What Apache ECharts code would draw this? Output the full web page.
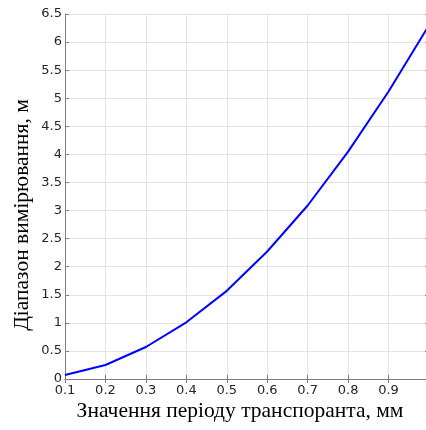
<!DOCTYPE html>
<html>
<head>
<meta charset="utf-8">
<script src="https://cdn.jsdelivr.net/npm/echarts@6/dist/echarts.min.js"></script>
<style>
  html, body { margin: 0; padding: 0; background: #fff; }
  #chart { width: 426px; height: 430px; }
</style>
</head>
<body>
<div id="chart"></div>
<script>
// період транспоранта, мм
const periods = [0.1, 0.2, 0.3, 0.4, 0.5, 0.6, 0.7, 0.8, 0.9, 1.0];
// діапазон вимірювання, м
const ranges = [0.07, 0.25, 0.57, 1.01, 1.57, 2.27, 3.09, 4.05, 5.12, 6.3];

const xTitle = 'Значення періоду транспоранта, мм';
const yTitle = 'Діапазон вимірювання, м';

function renderRangeChart() {
  const chart = echarts.init(document.getElementById('chart'));

  const axisGray = '#808080';
  const gridGray = '#e3e3e3';
  const labelFont = { fontFamily: 'DejaVu Sans', fontSize: 13, color: '#262626' };

  const option = {
    animation: false,
    grid: { left: 65, top: 14, width: 364, height: 365, outerBoundsMode: 'none', containLabel: false },
    xAxis: [
      {
        type: 'value',
        min: 0.1,
        max: 1.0,
        interval: 0.1,
        axisLine: { lineStyle: { color: axisGray } },
        axisTick: { inside: true, length: 4, lineStyle: { color: axisGray } },
        axisLabel: { ...labelFont, margin: 5 },
        splitLine: { show: true, lineStyle: { color: gridGray } }
      },
      {
        type: 'value',
        position: 'top',
        min: 0.1,
        max: 1.0,
        interval: 0.1,
        axisLine: { show: true, lineStyle: { color: axisGray } },
        axisTick: { show: true, inside: true, length: 4, lineStyle: { color: axisGray } },
        axisLabel: { show: false },
        splitLine: { show: false }
      }
    ],
    yAxis: [
      {
        type: 'value',
        min: 0,
        max: 6.5,
        interval: 0.5,
        axisLine: { show: true, lineStyle: { color: axisGray } },
        axisTick: { show: true, inside: true, length: 4, lineStyle: { color: axisGray } },
        axisLabel: { ...labelFont, margin: 3 },
        splitLine: { show: true, lineStyle: { color: gridGray } }
      },
      {
        type: 'value',
        position: 'right',
        min: 0,
        max: 6.5,
        interval: 0.5,
        axisLine: { show: true, lineStyle: { color: axisGray } },
        axisTick: { show: true, inside: true, length: 4, lineStyle: { color: axisGray } },
        axisLabel: { show: false },
        splitLine: { show: false }
      }
    ],
    graphic: [
      {
        type: 'text',
        x: 240,
        y: 411,
        style: {
          text: xTitle,
          font: '21.5px "Liberation Serif"',
          fill: '#000',
          align: 'center',
          verticalAlign: 'middle'
        }
      },
      {
        type: 'text',
        x: 22,
        y: 215,
        rotation: Math.PI / 2,
        style: {
          text: yTitle,
          font: '21.5px "Liberation Serif"',
          fill: '#000',
          align: 'center',
          verticalAlign: 'middle'
        }
      }
    ],
    series: [{
      type: 'line',
      data: periods.map((p, i) => [p, ranges[i]]),
      showSymbol: false,
      lineStyle: { color: '#0000ff', width: 2 }
    }]
  };

  chart.setOption(option);
}

renderRangeChart();
</script>
</body>
</html>
